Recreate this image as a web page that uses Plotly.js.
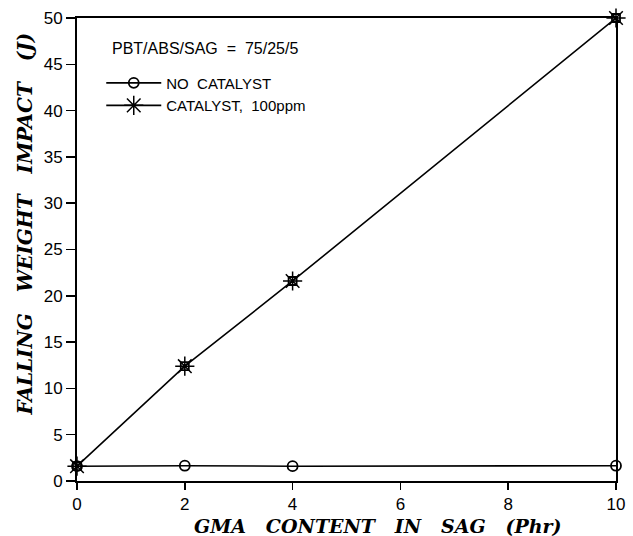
<!DOCTYPE html>
<html>
<head>
<meta charset="utf-8">
<script src="https://cdn.plot.ly/plotly-3.0.1.min.js"></script>
<style>html,body{margin:0;padding:0;background:#fff;}#chart{width:633px;height:536px;}</style>
</head>
<body>
<div id="chart"></div>
<script>
const gmaContent = [0, 2, 4, 10];
const noCatalyst = [1.6, 1.65, 1.6, 1.65];
const catalyst100 = [1.6, 12.4, 21.6, 50];
const seriesNames = ["NO  CATALYST", "CATALYST,  100ppm"];
const xTicks = [0, 2, 4, 6, 8, 10];
const yTicks = [0, 5, 10, 15, 20, 25, 30, 35, 40, 45, 50];
const noteText = "PBT/ABS/SAG  =  75/25/5";
const xTitle = "GMA\u00a0\u00a0\u00a0CONTENT\u00a0\u00a0\u00a0IN\u00a0\u00a0\u00a0SAG\u00a0\u00a0\u00a0(Phr)";
const yTitle = "FALLING\u00a0\u00a0\u00a0WEIGHT\u00a0\u00a0\u00a0IMPACT\u00a0\u00a0\u00a0(J)";

const sansFont = {family: "Liberation Sans, Arial, sans-serif", size: 17, color: "#000"};

const traces = [
  {x: gmaContent, y: noCatalyst, name: seriesNames[0], mode: "lines+markers",
   line: {color: "#000", width: 1.6},
   marker: {symbol: "circle-open", size: 10, color: "#000", line: {width: 1.8, color: "#000"}},
   cliponaxis: false},
  {x: gmaContent, y: catalyst100, name: seriesNames[1], mode: "lines+markers",
   line: {color: "#000", width: 1.6},
   marker: {symbol: "asterisk-open", size: 16, color: "#000", line: {width: 1.5, color: "#000"}},
   cliponaxis: false},
  {x: gmaContent, y: catalyst100, mode: "markers", showlegend: false, hoverinfo: "skip",
   marker: {symbol: "square-open", size: 8, color: "#000", line: {width: 1.8, color: "#000"}},
   cliponaxis: false}
];

const layout = {
  width: 633, height: 536,
  margin: {l: 77, r: 17, t: 18, b: 55},
  paper_bgcolor: "#fff", plot_bgcolor: "#fff",
  showlegend: true,
  legend: {x: 0.045, y: 0.895, xanchor: "left", yanchor: "top", bgcolor: "rgba(0,0,0,0)",
    font: {family: "Liberation Sans, Arial, sans-serif", size: 15, color: "#000"},
    tracegroupgap: 0, itemwidth: 55},
  xaxis: {range: [0, 10], tickvals: xTicks, ticks: "outside", ticklen: 7, tickwidth: 1.5,
    tickcolor: "#000", showline: true, linecolor: "#000", linewidth: 2, mirror: true,
    showgrid: false, zeroline: false, tickfont: sansFont},
  yaxis: {range: [0, 50], tickvals: yTicks, ticks: "outside", ticklen: 9, tickwidth: 1.5,
    tickcolor: "#000", showline: true, linecolor: "#000", linewidth: 2, mirror: true,
    showgrid: false, zeroline: false, tickfont: sansFont},
  annotations: [
    {text: noteText, xref: "paper", yref: "paper", x: 0.062, y: 0.935,
     xanchor: "left", yanchor: "middle", showarrow: false,
     font: {family: "Liberation Sans, Arial, sans-serif", size: 16, color: "#000"}},
    {text: xTitle, xref: "paper", yref: "paper", x: 0.5585, y: -0.097,
     xanchor: "center", yanchor: "middle", showarrow: false, borderpad: 0,
     font: {family: "DejaVu Serif, serif", size: 19, color: "#000", weight: "bold", style: "italic"}},
    {text: yTitle, xref: "paper", yref: "paper", x: -0.0965, y: 0.556, textangle: -90,
     xanchor: "center", yanchor: "middle", showarrow: false, borderpad: 0,
     font: {family: "DejaVu Serif, serif", size: 20, color: "#000", weight: "bold", style: "italic"}}
  ]
};

Plotly.newPlot("chart", traces, layout, {displayModeBar: false, staticPlot: true});
</script>
</body>
</html>
